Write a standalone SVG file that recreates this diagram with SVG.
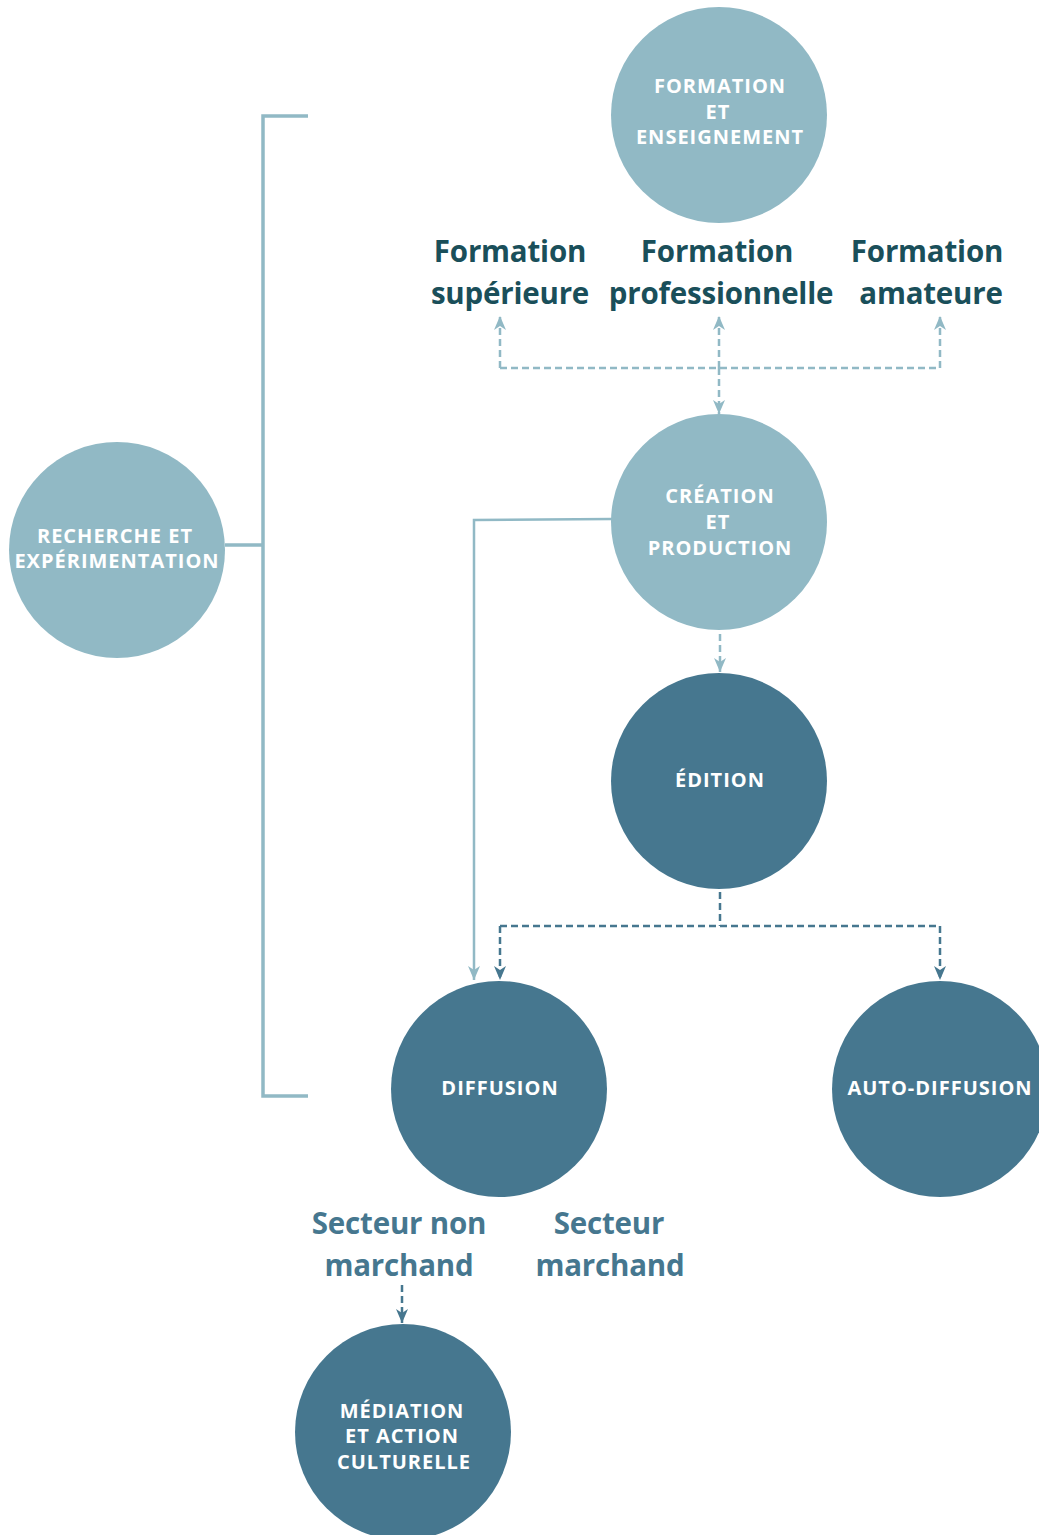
<svg xmlns="http://www.w3.org/2000/svg" width="1039" height="1535" viewBox="0 0 1039 1535">
  <style>
    .light { fill: #91b9c5; }
    .dark { fill: #46778f; }
    .cap { font-family: "Open Sans", "Liberation Sans", sans-serif; font-weight: 700; font-size: 20px; fill: #ffffff; text-anchor: middle; letter-spacing: 1px; }
    .lbl { font-family: "Open Sans", "Liberation Sans", sans-serif; font-weight: 700; font-size: 29.5px; text-anchor: middle; letter-spacing: -0.2px; }
    .lbl-top { fill: #1a4f5a; }
    .lbl-bot { fill: #46778f; }
    .dash-l { fill: none; stroke: #91b9c5; stroke-width: 2.5; stroke-dasharray: 7 4; }
    .dash-d { fill: none; stroke: #46778f; stroke-width: 2.5; stroke-dasharray: 7 4; }
    .solid-l { fill: none; stroke: #91b9c5; stroke-width: 2.5; }
    .bracket { fill: none; stroke: #91b9c5; stroke-width: 3.5; }
  </style>
  <defs>
    <!-- arrowhead pointing along the path direction, tip at the path end -->
    <marker id="arrow-l" viewBox="0 0 14 12" refX="14" refY="6" markerWidth="14" markerHeight="12" markerUnits="userSpaceOnUse" orient="auto">
      <path d="M0 0 L14 6 L0 12 L4 6 Z" fill="#91b9c5"/>
    </marker>
    <marker id="arrow-d" viewBox="0 0 14 12" refX="14" refY="6" markerWidth="14" markerHeight="12" markerUnits="userSpaceOnUse" orient="auto">
      <path d="M0 0 L14 6 L0 12 L4 6 Z" fill="#46778f"/>
    </marker>
  </defs>

  <rect width="1039" height="1535" fill="#ffffff"/>

  <!-- connectors -->
  <g id="connectors">
    <!-- bracket spanning the chain, joined to research -->
    <path class="bracket" d="M308 116 H263 V1096 H308"/>
    <path class="bracket" d="M225 545 H263"/>
    <!-- training branches -->
    <path class="dash-l" d="M500 368 H940"/>
    <path class="dash-l" d="M500 368 V316" marker-end="url(#arrow-l)"/>
    <path class="dash-l" d="M940 368 V316" marker-end="url(#arrow-l)"/>
    <path class="dash-l" d="M719 368 V316" marker-end="url(#arrow-l)"/>
    <path class="dash-l" d="M719 368 V414" marker-end="url(#arrow-l)"/>
    <!-- creation to diffusion -->
    <path class="solid-l" d="M612 519 L474 520 V980" marker-end="url(#arrow-l)"/>
    <!-- creation to edition -->
    <path class="dash-l" d="M720 634 V672" marker-end="url(#arrow-l)"/>
    <!-- edition fan-out -->
    <path class="dash-d" d="M720 892 V926"/>
    <path class="dash-d" d="M500 926 H940"/>
    <path class="dash-d" d="M500 926 V980" marker-end="url(#arrow-d)"/>
    <path class="dash-d" d="M940 926 V980" marker-end="url(#arrow-d)"/>
    <!-- diffusion to mediation -->
    <path class="dash-d" d="M402 1285 V1323" marker-end="url(#arrow-d)"/>
  </g>

  <g id="formation">
    <circle class="light" cx="719" cy="115" r="108"/>
    <text class="cap" x="720" y="93">FORMATION</text>
    <text class="cap" x="718" y="119">ET</text>
    <text class="cap" x="720" y="144">ENSEIGNEMENT</text>
  </g>

  <g id="formation-superieure">
    <text class="lbl lbl-top" x="510" y="262">Formation</text>
    <text class="lbl lbl-top" x="510" y="304">supérieure</text>
  </g>
  <g id="formation-professionnelle">
    <text class="lbl lbl-top" x="717" y="262">Formation</text>
    <text class="lbl lbl-top" x="721" y="304">professionnelle</text>
  </g>
  <g id="formation-amateure">
    <text class="lbl lbl-top" x="927" y="262">Formation</text>
    <text class="lbl lbl-top" x="931" y="304">amateure</text>
  </g>

  <g id="recherche">
    <circle class="light" cx="117" cy="550" r="108"/>
    <text class="cap" x="115" y="543">RECHERCHE ET</text>
    <text class="cap" x="117" y="568">EXPÉRIMENTATION</text>
  </g>

  <g id="creation">
    <circle class="light" cx="719" cy="522" r="108"/>
    <text class="cap" x="720" y="503">CRÉATION</text>
    <text class="cap" x="718" y="529">ET</text>
    <text class="cap" x="720" y="555">PRODUCTION</text>
  </g>

  <g id="edition">
    <circle class="dark" cx="719" cy="781" r="108"/>
    <text class="cap" x="720" y="787">ÉDITION</text>
  </g>

  <g id="diffusion">
    <circle class="dark" cx="499" cy="1089" r="108"/>
    <text class="cap" x="500" y="1095">DIFFUSION</text>
  </g>

  <g id="auto-diffusion">
    <circle class="dark" cx="940" cy="1089" r="108"/>
    <text class="cap" x="940" y="1095">AUTO-DIFFUSION</text>
  </g>

  <g id="secteur-non-marchand">
    <text class="lbl lbl-bot" x="399" y="1234">Secteur non</text>
    <text class="lbl lbl-bot" x="399" y="1276">marchand</text>
  </g>
  <g id="secteur-marchand">
    <text class="lbl lbl-bot" x="609" y="1234">Secteur</text>
    <text class="lbl lbl-bot" x="610" y="1276">marchand</text>
  </g>

  <g id="mediation">
    <circle class="dark" cx="403" cy="1432" r="108"/>
    <text class="cap" x="402" y="1418">MÉDIATION</text>
    <text class="cap" x="402" y="1443">ET ACTION</text>
    <text class="cap" x="404" y="1469">CULTURELLE</text>
  </g>
</svg>
